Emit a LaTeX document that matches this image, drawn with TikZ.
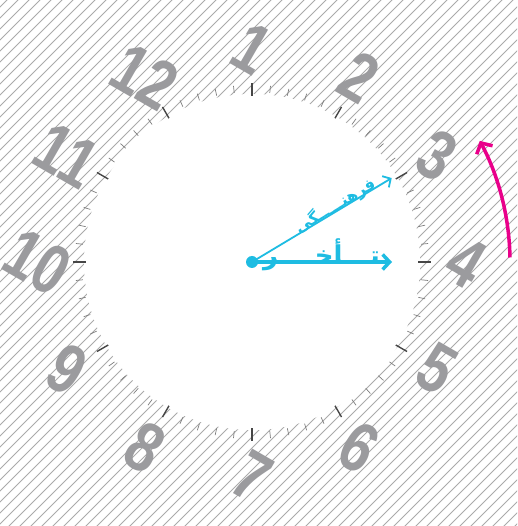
\documentclass[tikz,border=0pt]{standalone}
\usepackage{fontspec}
\usetikzlibrary{arrows.meta, positioning}
\TeXXeTstate=1
\newfontfamily\arabicfont[Script=Arabic]{DejaVu Sans}
\newfontfamily\numfont{Liberation Sans}
\definecolor{hatchgray}{RGB}{170,170,170}
\definecolor{numgray}{RGB}{155,155,158}
\definecolor{tickgray}{RGB}{70,70,70}
\definecolor{lagblue}{RGB}{30,188,226}
\definecolor{turnpink}{RGB}{233,0,138}

\tikzset{
    hourtick/.style={tickgray, line width=1.4pt},
    mintick/.style={tickgray!70, line width=0.7pt},
    clocknum/.style={numgray, font=\numfont\bfseries\fontsize{70}{70}\selectfont, rotate=-30, xscale=0.8, inner sep=0pt},
    lagarrow/.style={lagblue, -{Straight Barb[length=7pt, width=15pt, line width=3.5pt]}},
}

\begin{document}
\begin{tikzpicture}[x=1pt, y=1pt]
    \useasboundingbox (-252, -264) rectangle (265, 262);

    % hatched paper with the white dial on top
    \begin{scope}
        \clip (-252, -264) rectangle (265, 262);
        \foreach \c in {-540, -529, ..., 540}
            \draw[hatchgray, line width=0.8pt] (\c-300, -300) -- (\c+300, 300);
    \end{scope}
    \fill[white] (0, 0) circle (168);

    % minute and hour ticks
    \foreach \m in {0, ..., 59} {
        \pgfmathtruncatemacro{\isHour}{mod(\m, 5) == 0}
        \ifnum\isHour=1
            \draw[hourtick] (90-6*\m:166) -- (90-6*\m:179);
        \else
            \draw[mintick] (90-6*\m:170) -- (90-6*\m:177);
        \fi
    }

    % numbers, turned one hour back
    \foreach \n in {1, ..., 12}
        \node[clocknum] (num\n) at (120-30*\n:214) {\n};

    % the two hands
    \node[circle, fill=lagblue, inner sep=0pt, minimum size=12pt] (hub) at (0, 0) {};
    \coordinate (lagtip) at (140, 0);
    \coordinate (culttip) at (31:163);

    \draw[lagarrow, line width=3.5pt] (hub.center) -- (lagtip);
    \node[lagblue, anchor=base east, inner sep=0pt, font=\arabicfont\bfseries\fontsize{26}{26}\selectfont]
        (lagtext) at (128, -3) {\beginR تـــأخــــر\endR};

    \draw[lagblue, line width=1.8pt, -{Straight Barb[length=6pt, width=13pt, line width=1.8pt]}]
        (hub.center) -- (culttip);
    \node[lagblue, anchor=base, rotate=31, inner sep=0pt, font=\arabicfont\bfseries\fontsize{16}{16}\selectfont]
        (culttext) at (31:100) {\beginR فرهنـــــگی\endR};

    % turning arrow
    \coordinate (turnstart) at (1:258);
    \draw[turnpink, line width=3.5pt, -{Straight Barb[length=8pt, width=18pt, line width=3.5pt]}]
        (turnstart) arc[start angle=1, end angle=28, radius=258];
\end{tikzpicture}
\end{document}
